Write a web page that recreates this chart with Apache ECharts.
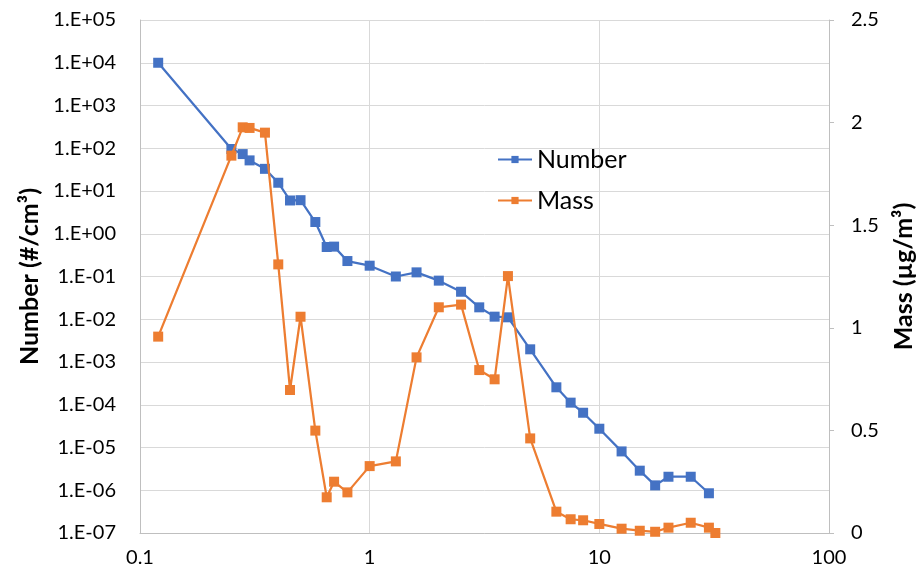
<!DOCTYPE html>
<html>
<head>
<meta charset="utf-8">
<script src="https://cdn.jsdelivr.net/npm/echarts@6/dist/echarts.min.js"></script>
<style>
  html, body { margin: 0; padding: 0; background: #fff; }
  #chart { width: 924px; height: 573px; }
</style>
</head>
<body>
<div id="chart"></div>
<script>
// Particle size (µm) for each measured bin
const sizeNumber = [0.12, 0.25, 0.28, 0.30, 0.35, 0.40, 0.45, 0.50, 0.58, 0.65, 0.70, 0.80, 1.0, 1.3, 1.6,
  2.0, 2.5, 3.0, 3.5, 4.0, 5.0, 6.5, 7.5, 8.5, 10, 12.5, 15, 17.5, 20, 25, 30];
const sizeMass = [0.12, 0.25, 0.28, 0.30, 0.35, 0.40, 0.45, 0.50, 0.58, 0.65, 0.70, 0.80, 1.0, 1.3, 1.6,
  2.0, 2.5, 3.0, 3.5, 4.0, 5.0, 6.5, 7.5, 8.5, 10, 12.5, 15, 17.5, 20, 25, 30, 32];

// Number concentration (#/cm³)
const numberValues = [10000, 96, 73, 52, 33, 15.6, 6.0, 6.1, 1.88, 0.49, 0.50, 0.23, 0.179, 0.10, 0.125,
  0.080, 0.044, 0.019, 0.0115, 0.0111, 0.00198, 2.56e-4, 1.12e-4, 6.5e-5, 2.75e-5, 8.1e-6, 2.87e-6,
  1.3e-6, 2.07e-6, 2.07e-6, 8.5e-7];

// Mass concentration (µg/m³)
const massValues = [0.957, 1.839, 1.977, 1.974, 1.951, 1.309, 0.697, 1.054, 0.499, 0.174, 0.25, 0.198,
  0.326, 0.349, 0.856, 1.100, 1.113, 0.794, 0.749, 1.252, 0.461, 0.104, 0.067, 0.062, 0.044, 0.021,
  0.011, 0.006, 0.026, 0.050, 0.026, 0.0];

const seriesNames = ['Number', 'Mass'];
const xTickLabels = { '-1': '0.1', '0': '1', '1': '10', '2': '100' };

const FONT = 'Lato, "Open Sans", sans-serif';
const BLUE = '#4472C4';
const ORANGE = '#ED7D31';
const GRID = '#d9d9d9';
const AXIS = '#bfbfbf';

function sciLabel(v) {
  const e = Math.round(Math.log10(v));
  const sign = e < 0 ? '-' : '+';
  const a = Math.abs(e);
  return '1.E' + sign + (a < 10 ? '0' + a : String(a));
}

const chart = echarts.init(document.getElementById('chart'), null, { renderer: 'canvas' });

chart.setOption({
  animation: false,
  backgroundColor: '#ffffff',
  textStyle: { fontFamily: FONT },
  grid: { left: 140, right: 93, top: 20, bottom: 40, containLabel: false },
  legend: {
    data: seriesNames,
    orient: 'vertical',
    left: 492,
    top: 142,
    itemGap: 16,
    itemWidth: 34,
    itemHeight: 9,
    itemTextGap: 4,
    textStyle: { fontSize: 25, color: '#000', fontFamily: FONT }
  },
  xAxis: {
    type: 'log',
    logBase: 10,
    min: 0.1,
    max: 100,
    interval: 1,
    axisLine: { show: true, lineStyle: { color: AXIS, width: 1 } },
    axisTick: { show: false },
    axisLabel: {
      color: '#000', fontSize: 20, fontFamily: FONT, margin: 15,
      formatter: v => xTickLabels[String(Math.round(Math.log10(v)))] || ''
    },
    splitLine: { show: true, lineStyle: { color: GRID, width: 1 } },
    minorTick: { show: false }
  },
  yAxis: [
    {
      type: 'log',
      logBase: 10,
      min: 1e-7,
      max: 1e5,
      interval: 1,
      position: 'left',
      name: 'Number (#/cm³)',
      nameLocation: 'middle',
      nameRotate: 90,
      nameGap: 94,
      nameTextStyle: { fontSize: 25, fontWeight: 'bold', color: '#000', fontFamily: FONT },
      axisLine: { show: true, lineStyle: { color: AXIS, width: 1 } },
      axisTick: { show: false },
      axisLabel: { color: '#000', fontSize: 20, fontFamily: FONT, margin: 24, formatter: sciLabel },
      splitLine: { show: true, lineStyle: { color: GRID, width: 1 } }
    },
    {
      type: 'value',
      min: 0,
      max: 2.5,
      interval: 0.5,
      position: 'right',
      name: 'Mass (µg/m³)',
      nameLocation: 'middle',
      nameRotate: 90,
      nameGap: 62,
      nameTextStyle: { fontSize: 25, fontWeight: 'bold', color: '#000', fontFamily: FONT },
      axisLine: { show: true, lineStyle: { color: AXIS, width: 1 } },
      axisTick: { show: true, inside: false, length: 5, lineStyle: { color: AXIS } },
      axisLabel: { color: '#000', fontSize: 20, fontFamily: FONT, margin: 22 },
      splitLine: { show: false }
    }
  ],
  series: [
    {
      name: seriesNames[0],
      type: 'line',
      yAxisIndex: 0,
      data: sizeNumber.map((x, i) => [x, numberValues[i]]),
      symbol: 'rect',
      symbolSize: 10,
      lineStyle: { color: BLUE, width: 2.25 },
      itemStyle: { color: BLUE },
      z: 3
    },
    {
      name: seriesNames[1],
      type: 'line',
      yAxisIndex: 1,
      data: sizeMass.map((x, i) => [x, massValues[i]]),
      symbol: 'rect',
      symbolSize: 10,
      lineStyle: { color: ORANGE, width: 2.25 },
      itemStyle: { color: ORANGE },
      z: 4
    }
  ]
});
</script>
</body>
</html>
